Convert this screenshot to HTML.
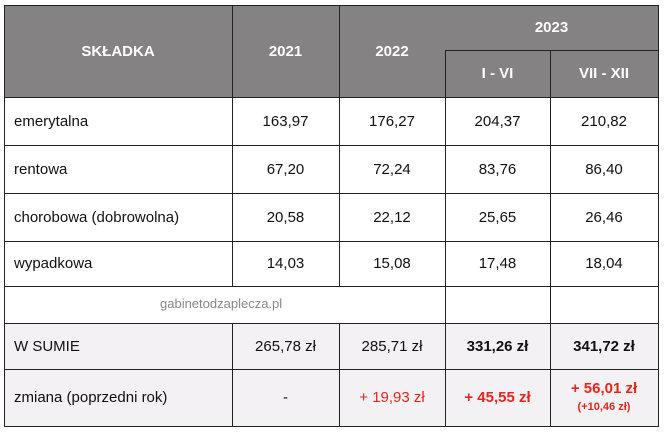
<!DOCTYPE html>
<html><head><meta charset="utf-8"><style>
body{margin:0;width:664px;height:432px;background:#fff;font-family:"Liberation Sans",sans-serif;overflow:hidden}
.c{position:absolute;box-sizing:border-box;display:flex;align-items:center;justify-content:center;font-size:15px;color:#111}
.h{background:#858284;color:#fff;font-weight:bold;font-size:15px}
.l{justify-content:flex-start;padding-left:10px}
.g{background:#f3f1f3}
.r{color:#e8251c}
.b{font-weight:bold}
.line{position:absolute;background:#222}
</style></head><body>
<!-- header -->
<div class="c h" style="left:4px;top:5px;width:228px;height:92px">SKŁADKA</div>
<div class="c h" style="left:232px;top:5px;width:107px;height:92px">2021</div>
<div class="c h" style="left:339px;top:5px;width:106px;height:92px">2022</div>
<div class="c h" style="left:445px;top:5px;width:213px;height:45px">2023</div>
<div class="c h" style="left:445px;top:50px;width:105px;height:47px">I - VI</div>
<div class="c h" style="left:550px;top:50px;width:108px;height:47px">VII - XII</div>
<!-- rows -->
<div class="c l" style="left:4px;top:97px;width:228px;height:48px">emerytalna</div>
<div class="c" style="left:232px;top:97px;width:107px;height:48px">163,97</div>
<div class="c" style="left:339px;top:97px;width:106px;height:48px">176,27</div>
<div class="c" style="left:445px;top:97px;width:105px;height:48px">204,37</div>
<div class="c" style="left:550px;top:97px;width:108px;height:48px">210,82</div>

<div class="c l" style="left:4px;top:145px;width:228px;height:48px">rentowa</div>
<div class="c" style="left:232px;top:145px;width:107px;height:48px">67,20</div>
<div class="c" style="left:339px;top:145px;width:106px;height:48px">72,24</div>
<div class="c" style="left:445px;top:145px;width:105px;height:48px">83,76</div>
<div class="c" style="left:550px;top:145px;width:108px;height:48px">86,40</div>

<div class="c l" style="left:4px;top:193px;width:228px;height:48px">chorobowa (dobrowolna)</div>
<div class="c" style="left:232px;top:193px;width:107px;height:48px">20,58</div>
<div class="c" style="left:339px;top:193px;width:106px;height:48px">22,12</div>
<div class="c" style="left:445px;top:193px;width:105px;height:48px">25,65</div>
<div class="c" style="left:550px;top:193px;width:108px;height:48px">26,46</div>

<div class="c l" style="left:4px;top:241px;width:228px;height:45px">wypadkowa</div>
<div class="c" style="left:232px;top:241px;width:107px;height:45px">14,03</div>
<div class="c" style="left:339px;top:241px;width:106px;height:45px">15,08</div>
<div class="c" style="left:445px;top:241px;width:105px;height:45px">17,48</div>
<div class="c" style="left:550px;top:241px;width:108px;height:45px">18,04</div>

<div class="c" style="left:4px;top:286px;width:441px;height:37px;color:#888;font-size:13px;justify-content:flex-start;padding-left:156px;align-items:flex-start;padding-top:10px">gabinetodzaplecza.pl</div>

<div class="g" style="position:absolute;left:4px;top:323px;width:654px;height:103px"></div>
<div class="c l" style="left:4px;top:323px;width:228px;height:46px">W SUMIE</div>
<div class="c" style="left:232px;top:323px;width:107px;height:46px">265,78 zł</div>
<div class="c" style="left:339px;top:323px;width:106px;height:46px">285,71 zł</div>
<div class="c b" style="left:445px;top:323px;width:105px;height:46px">331,26 zł</div>
<div class="c b" style="left:550px;top:323px;width:108px;height:46px">341,72 zł</div>

<div class="c l" style="left:4px;top:369px;width:228px;height:57px">zmiana (poprzedni rok)</div>
<div class="c" style="left:232px;top:369px;width:107px;height:57px">-</div>
<div class="c r" style="left:339px;top:369px;width:106px;height:57px">+ 19,93 zł</div>
<div class="c r b" style="left:445px;top:369px;width:105px;height:57px">+ 45,55 zł</div>
<div class="c r b" style="left:550px;top:369px;width:108px;height:57px;flex-direction:column;line-height:18px"><span>+ 56,01 zł</span><span style="font-size:11px">(+10,46 zł)</span></div>

<!-- grid lines -->
<div class="line" style="left:4px;top:5px;width:655px;height:1px"></div>
<div class="line" style="left:445px;top:50px;width:213px;height:1px"></div>
<div class="line" style="left:4px;top:97px;width:655px;height:1px"></div>
<div class="line" style="left:4px;top:145px;width:655px;height:1px"></div>
<div class="line" style="left:4px;top:193px;width:655px;height:1px"></div>
<div class="line" style="left:4px;top:241px;width:655px;height:1px"></div>
<div class="line" style="left:4px;top:286px;width:655px;height:1px"></div>
<div class="line" style="left:4px;top:323px;width:655px;height:1px"></div>
<div class="line" style="left:4px;top:369px;width:655px;height:1px"></div>
<div class="line" style="left:4px;top:426px;width:655px;height:1px"></div>
<div class="line" style="left:4px;top:5px;width:1px;height:422px"></div>
<div class="line" style="left:232px;top:5px;width:1px;height:281px"></div>
<div class="line" style="left:232px;top:323px;width:1px;height:104px"></div>
<div class="line" style="left:339px;top:5px;width:1px;height:281px"></div>
<div class="line" style="left:339px;top:323px;width:1px;height:104px"></div>
<div class="line" style="left:445px;top:50px;width:1px;height:377px"></div>
<div class="line" style="left:550px;top:50px;width:1px;height:377px"></div>
<div class="line" style="left:658px;top:5px;width:1px;height:422px"></div>
</body></html>
